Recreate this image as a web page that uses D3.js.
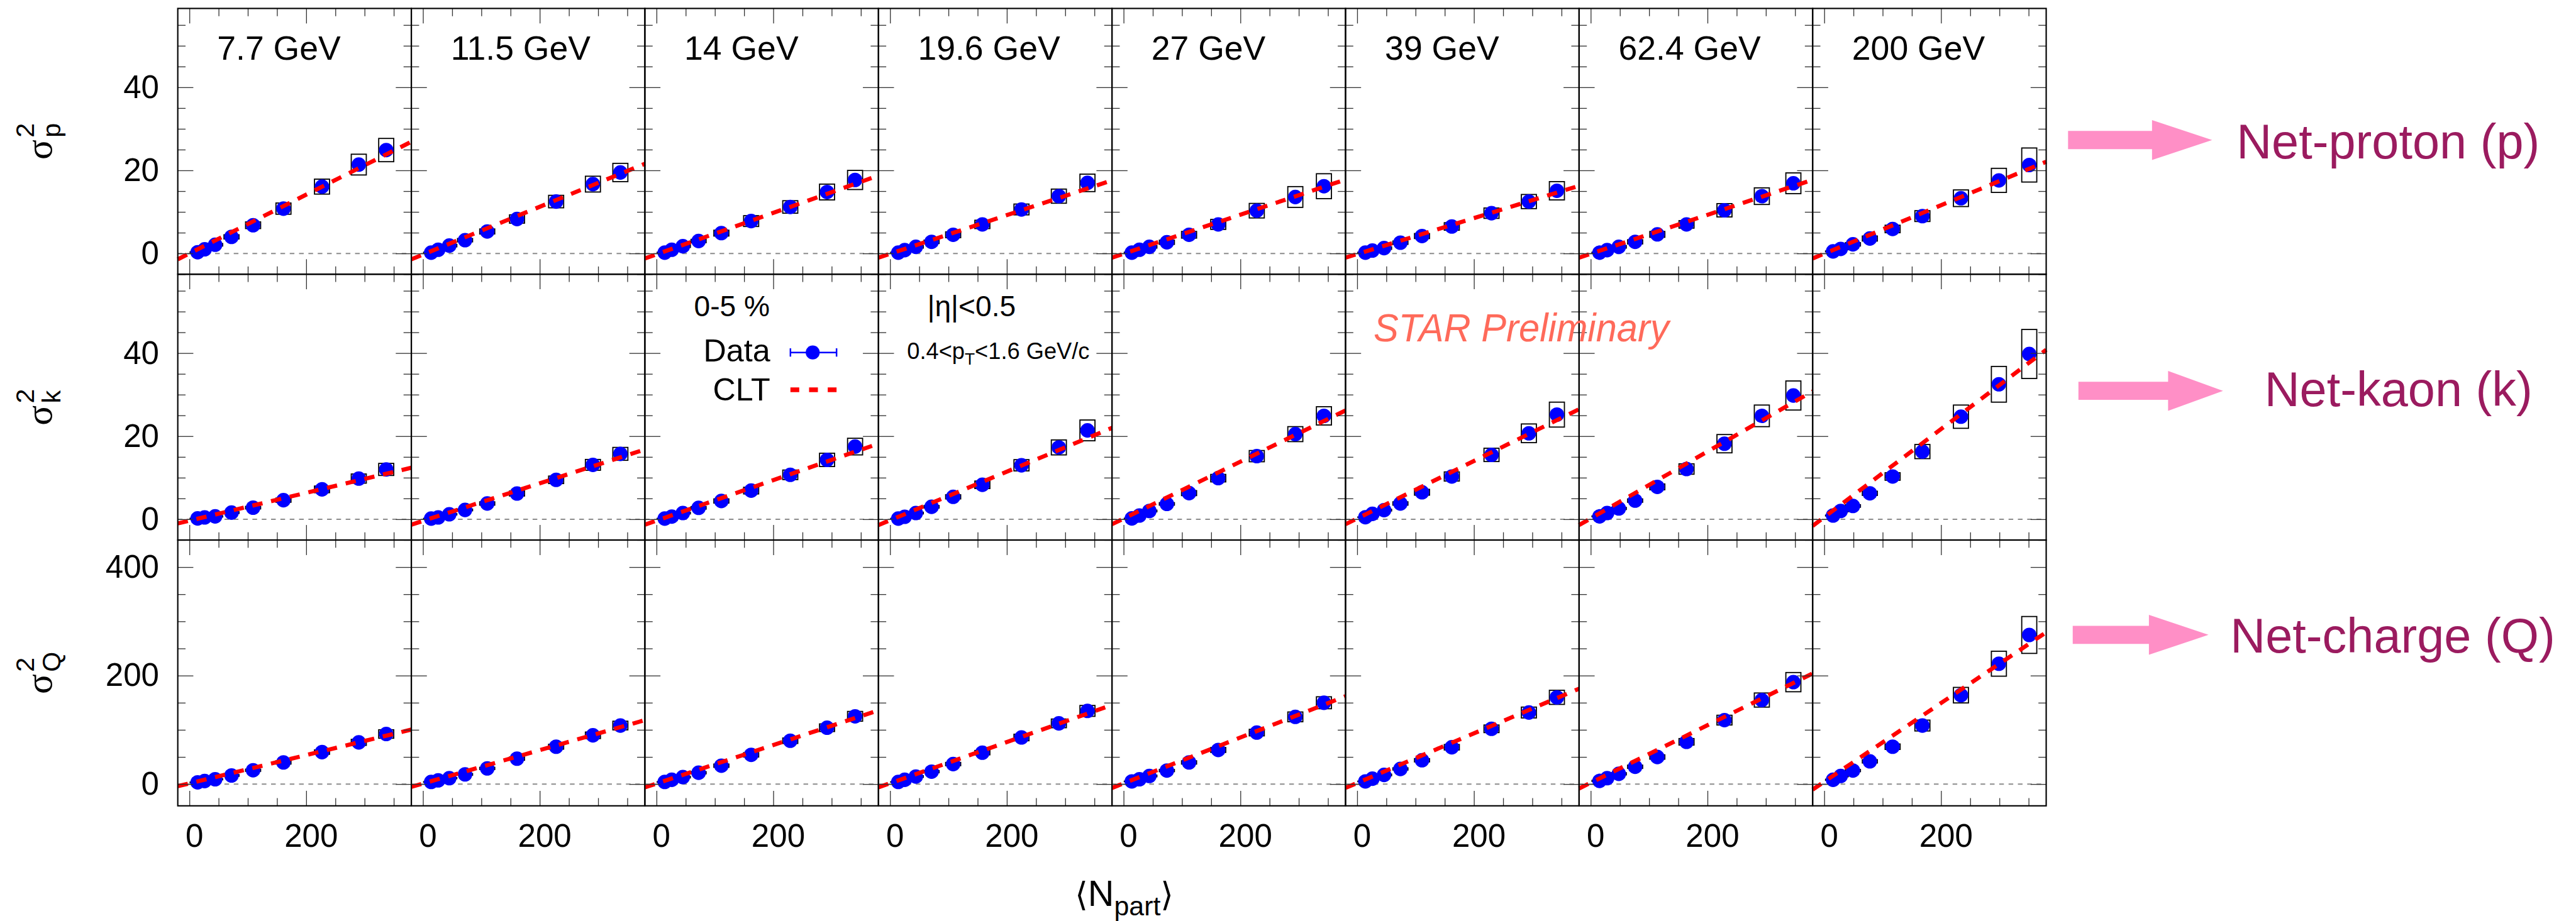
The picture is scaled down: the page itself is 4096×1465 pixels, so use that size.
<!DOCTYPE html>
<html>
<head>
<meta charset="utf-8">
<script src="https://cdn.jsdelivr.net/npm/d3@7"></script>
<style>
html, body { margin: 0; padding: 0; background: #fff; }
svg { display: block; }
</style>
</head>
<body>
<div id="chart"></div>
<script>
// one column per collision energy
const energies = ["7.7 GeV", "11.5 GeV", "14 GeV", "19.6 GeV", "27 GeV", "39 GeV", "62.4 GeV", "200 GeV"];

// <Npart> of the nine centrality bins, 70-80% ... 0-5%
const npart = [
  [14, 26, 44, 72, 109, 161, 227, 290, 337],
  [14, 26, 45, 72, 110, 161, 228, 291, 338],
  [14, 26, 45, 72, 111, 162, 229, 292, 340],
  [14, 25, 44, 71, 108, 158, 225, 289, 338],
  [14, 27, 44, 74, 112, 162, 228, 294, 343],
  [14, 26, 46, 74, 111, 162, 230, 294, 342],
  [15, 28, 48, 76, 114, 164, 229, 293, 347],
  [15, 28, 49, 78, 117, 168, 234, 299, 351]
];

// net-proton variance and systematic errors
const protonVar = [
  [0.3, 1.0, 2.1, 4.0, 6.8, 10.8, 16.1, 21.4, 24.9],
  [0.2, 0.9, 1.9, 3.2, 5.3, 8.3, 12.5, 16.7, 19.5],
  [0.2, 0.9, 1.75, 3.0, 4.9, 7.8, 11.2, 14.8, 17.7],
  [0.2, 0.8, 1.6, 2.8, 4.5, 7.0, 10.6, 13.8, 17.0],
  [0.2, 0.9, 1.6, 2.7, 4.5, 7.0, 10.3, 13.6, 16.2],
  [0.2, 0.7, 1.3, 2.6, 4.2, 6.5, 9.7, 12.5, 15.1],
  [0.2, 0.8, 1.6, 2.8, 4.6, 7.0, 10.4, 13.8, 16.9],
  [0.5, 1.1, 2.2, 3.6, 5.9, 9.0, 13.3, 17.6, 21.3]
];
const protonSys = [
  [0.1, 0.2, 0.3, 0.5, 0.8, 1.35, 1.8, 2.5, 2.8],
  [0.1, 0.2, 0.3, 0.4, 0.6, 1.0, 1.5, 1.9, 2.2],
  [0.1, 0.2, 0.3, 0.4, 0.7, 1.3, 1.5, 1.9, 2.3],
  [0.1, 0.2, 0.3, 0.4, 0.7, 1.0, 1.3, 1.7, 2.1],
  [0.1, 0.2, 0.3, 0.5, 0.8, 1.2, 1.75, 2.5, 3.0],
  [0.1, 0.2, 0.3, 0.4, 0.6, 0.9, 1.25, 1.7, 2.2],
  [0.1, 0.2, 0.3, 0.5, 0.7, 0.9, 1.6, 2.0, 2.5],
  [0.1, 0.2, 0.4, 0.6, 0.9, 1.3, 2.0, 2.9, 4.1]
];

// net-kaon variance and systematic errors
const kaonVar = [
  [0.2, 0.45, 0.7, 1.6, 2.8, 4.6, 7.2, 9.8, 12.0],
  [0.17, 0.45, 1.2, 2.25, 3.8, 6.2, 9.5, 13.1, 15.75],
  [0.17, 0.65, 1.5, 2.75, 4.4, 6.9, 10.7, 14.3, 17.5],
  [0.17, 0.6, 1.5, 3.0, 5.4, 8.3, 13.0, 17.3, 21.4],
  [0.2, 0.9, 2.0, 3.7, 6.3, 9.9, 15.2, 20.5, 24.9],
  [0.5, 1.3, 2.2, 3.8, 6.5, 10.3, 15.5, 20.7, 25.2],
  [0.7, 1.5, 2.6, 4.5, 7.8, 12.1, 18.2, 24.9, 29.8],
  [0.9, 2.0, 3.2, 6.25, 10.3, 16.3, 24.7, 32.5, 39.8]
];
const kaonSys = [
  [0.05, 0.1, 0.15, 0.2, 0.3, 0.5, 0.8, 1.1, 1.45],
  [0.05, 0.1, 0.15, 0.2, 0.4, 0.6, 0.9, 1.3, 1.55],
  [0.05, 0.1, 0.2, 0.3, 0.5, 0.8, 1.15, 1.6, 2.0],
  [0.05, 0.1, 0.2, 0.3, 0.5, 0.9, 1.35, 1.8, 2.5],
  [0.05, 0.1, 0.2, 0.3, 0.6, 0.9, 1.35, 1.8, 2.2],
  [0.05, 0.1, 0.2, 0.4, 0.7, 1.1, 1.6, 2.25, 3.0],
  [0.1, 0.15, 0.25, 0.4, 0.7, 1.25, 2.2, 2.6, 3.5],
  [0.1, 0.2, 0.3, 0.5, 0.9, 1.7, 2.8, 4.3, 5.9]
];

// net-charge variance and systematic errors
const chargeVar = [
  [3.3, 5.7, 9, 16, 25.6, 40, 59, 77, 92.4],
  [4, 7, 11, 18, 29, 47, 69, 90, 108],
  [4, 8, 13, 21, 34, 54, 80, 104, 125],
  [4, 8, 14, 23, 37, 58, 86, 112, 135],
  [5, 9, 15, 25, 40, 63, 95, 124, 150],
  [5, 10, 17, 28, 44, 68, 102, 132, 160],
  [6, 11, 19, 32, 50, 78, 118, 155, 188],
  [8, 15, 25, 42, 69, 108, 164, 222, 275]
];
const chargeSys = [
  [0.5, 0.8, 1, 1.5, 2, 3, 4, 5.5, 7.8],
  [0.5, 0.8, 1, 1.5, 2, 3, 4.5, 6, 8],
  [0.5, 1, 1.5, 2, 3, 4, 5, 7, 9],
  [0.5, 1, 1.5, 2, 3, 4, 6, 8, 10],
  [0.5, 1, 1.5, 2, 3, 4.5, 6, 9, 11],
  [0.5, 1, 1.5, 2, 3, 5, 7, 10, 13],
  [1, 1, 2, 3, 4, 6, 9, 13, 17.7],
  [1, 1.5, 2, 3, 5, 10, 14.3, 23, 34]
];

// CLT expectation, value at each end of the Npart range
const cltNpart = [-20, 380];
const protonClt = [[-1.4, 26.9], [-1.4, 21.6], [-1.2, 18.75], [-1.0, 17.6], [-1.0, 17.8], [-1.0, 16.3], [-1.0, 17.75], [-1.2, 22.1]];
const kaonClt = [[-1.0, 12.4], [-1.3, 16.8], [-1.3, 18.2], [-1.4, 22.0], [-1.2, 26.2], [-1.2, 26.5], [-1.4, 30.8], [-1.6, 40.8]];
const chargeClt = [[-3.8, 100.5], [-5, 118], [-6, 136], [-6, 146], [-7, 162], [-7, 176], [-8, 204], [-10, 280]];

// tick labels
const xTicks = [0, 200];
const yTicksPK = [0, 20, 40];
const yTicksQ = [0, 200, 400];

const sans = "'Liberation Sans', Arial, Helvetica, sans-serif";

const svg = d3.select("#chart").append("svg")
  .attr("width", 4096)
  .attr("height", 1465)
  .attr("viewBox", "0 0 4970 1777")
  .attr("font-family", sans);

const margin = {left: 343, top: 16};
const panelW = 450.6;
const panelH = 513;
const xDomain = [-20, 380];

const rows = [
  {vals: protonVar, sys: protonSys, clt: protonClt, domain: [-5, 59], major: yTicksPK, step: 5, sub: "p"},
  {vals: kaonVar, sys: kaonSys, clt: kaonClt, domain: [-5, 59], major: yTicksPK, step: 5, sub: "k"},
  {vals: chargeVar, sys: chargeSys, clt: chargeClt, domain: [-40, 450], major: yTicksQ, step: 50, sub: "Q"}
];

function tickGroup(g, axis, transform) {
  const a = g.append("g").attr("transform", transform).call(axis);
  a.select(".domain").remove();
  a.selectAll("line").attr("stroke", "#333").attr("stroke-width", 1.6);
  a.attr("font-family", sans).attr("font-size", 62);
  return a;
}

rows.forEach((row, r) => {
  const y = d3.scaleLinear().domain(row.domain).range([panelH, 0]);
  const minors = d3.range(Math.ceil(row.domain[0] / row.step) * row.step, row.domain[1], row.step)
    .filter(v => !row.major.includes(v));

  energies.forEach((energy, c) => {
    const x = d3.scaleLinear().domain(xDomain).range([0, panelW]);
    const xMinors = d3.range(0, xDomain[1], 50).filter(v => !xTicks.includes(v));
    const g = svg.append("g")
      .attr("transform", `translate(${margin.left + c * panelW}, ${margin.top + r * panelH})`);

    // zero reference
    g.append("line")
      .attr("x1", x(xDomain[0])).attr("x2", x(xDomain[1]))
      .attr("y1", y(0)).attr("y2", y(0))
      .attr("stroke", "#8c8c8c").attr("stroke-width", 2.5)
      .attr("stroke-dasharray", "9,9");

    const pts = npart[c].map((n, i) => ({n: n, v: row.vals[c][i], s: row.sys[c][i]}));

    // systematic boxes
    g.selectAll("rect.sys").data(pts).enter().append("rect")
      .attr("class", "sys")
      .attr("x", d => x(d.n) - 14.5)
      .attr("width", 29)
      .attr("y", d => y(d.v + d.s))
      .attr("height", d => y(d.v - d.s) - y(d.v + d.s))
      .attr("fill", "none").attr("stroke", "#000").attr("stroke-width", 2.2);

    // data points
    g.selectAll("circle").data(pts).enter().append("circle")
      .attr("cx", d => x(d.n))
      .attr("cy", d => y(d.v))
      .attr("r", 14)
      .attr("fill", "#0000ff");

    // CLT line
    g.append("line")
      .attr("x1", x(cltNpart[0])).attr("y1", y(row.clt[c][0]))
      .attr("x2", x(cltNpart[1])).attr("y2", y(row.clt[c][1]))
      .attr("stroke", "#ff0000").attr("stroke-width", 8)
      .attr("stroke-dasharray", "20,17");

    // ticks on all four sides, pointing inward
    tickGroup(g, d3.axisLeft(y).tickValues(minors).tickSize(-15).tickFormat(""), null);
    tickGroup(g, d3.axisRight(y).tickValues(minors).tickSize(-15).tickFormat(""), `translate(${panelW},0)`);
    tickGroup(g, d3.axisRight(y).tickValues(row.major).tickSize(-30).tickFormat(""), `translate(${panelW},0)`);
    const yMajor = tickGroup(g, d3.axisLeft(y).tickValues(row.major).tickSize(-30).tickPadding(36)
      .tickFormat(c === 0 ? d3.format("d") : ""), null);
    yMajor.selectAll("text").attr("fill", "#000");

    tickGroup(g, d3.axisTop(x).tickValues(xMinors).tickSize(-15).tickFormat(""), null);
    tickGroup(g, d3.axisTop(x).tickValues(xTicks).tickSize(-29).tickFormat(""), null);
    tickGroup(g, d3.axisBottom(x).tickValues(xMinors).tickSize(-15).tickFormat(""), `translate(0,${panelH})`);
    const xMajor = tickGroup(g, d3.axisBottom(x).tickValues(xTicks).tickSize(-29).tickPadding(35)
      .tickFormat(r === rows.length - 1 ? d3.format("d") : ""), `translate(0,${panelH})`);
    xMajor.selectAll("text").attr("dx", 9).attr("fill", "#000");

    // frame
    g.append("rect")
      .attr("width", panelW).attr("height", panelH)
      .attr("fill", "none").attr("stroke", "#000").attr("stroke-width", 2.6);

    if (r === 0) {
      g.append("text")
        .attr("x", 76).attr("y", 99)
        .attr("font-size", 65)
        .text(energy);
    }
  });

  // y title, sigma with stacked 2 and subscript
  const cy = margin.top + (r + 0.5) * panelH;
  const t = svg.append("g").attr("transform", `translate(100,${cy}) rotate(-90)`);
  const sig = t.append("text")
    .attr("font-family", "'Liberation Serif', 'Times New Roman', serif")
    .attr("font-size", 72).text("σ");
  const sup = t.append("text").attr("font-size", 50).attr("y", -34).text("2");
  const sub = t.append("text").attr("font-size", 50).attr("y", 16).text(row.sub);
  const sw = sig.node().getComputedTextLength();
  const total = sw + 4 + Math.max(sup.node().getComputedTextLength(), sub.node().getComputedTextLength());
  sig.attr("x", -total / 2);
  sup.attr("x", -total / 2 + sw + 4);
  sub.attr("x", -total / 2 + sw + 4);
});

// x title
const xt = svg.append("text").attr("x", 2074).attr("y", 1748).attr("font-size", 70);
xt.append("tspan").attr("font-family", "'DejaVu Sans', sans-serif").attr("font-size", 64).text("⟨");
xt.append("tspan").text("N");
xt.append("tspan").attr("font-size", 52).attr("dy", 18).text("part");
xt.append("tspan").attr("font-family", "'DejaVu Sans', sans-serif").attr("font-size", 64).attr("dy", -18).text("⟩");

// legend and cut labels
svg.append("text").attr("x", 1339).attr("y", 610).attr("font-size", 56).text("0-5 %");
svg.append("text").attr("x", 1486).attr("y", 698).attr("font-size", 61).attr("text-anchor", "end").text("Data");
svg.append("text").attr("x", 1486).attr("y", 773).attr("font-size", 61).attr("text-anchor", "end").text("CLT");

svg.append("line").attr("x1", 1525).attr("x2", 1614).attr("y1", 680).attr("y2", 680)
  .attr("stroke", "#0000ff").attr("stroke-width", 3);
[1525, 1614].forEach(xc => {
  svg.append("line").attr("x1", xc).attr("x2", xc).attr("y1", 672).attr("y2", 688)
    .attr("stroke", "#0000ff").attr("stroke-width", 3);
});
svg.append("circle").attr("cx", 1568).attr("cy", 680).attr("r", 13.5).attr("fill", "#0000ff");
svg.append("line").attr("x1", 1525).attr("x2", 1614).attr("y1", 752).attr("y2", 752)
  .attr("stroke", "#ff0000").attr("stroke-width", 9).attr("stroke-dasharray", "17,19");

svg.append("text").attr("x", 1789).attr("y", 610).attr("font-size", 56).text("|η|<0.5");
const pt = svg.append("text").attr("x", 1750).attr("y", 693).attr("font-size", 44);
pt.append("tspan").text("0.4<p");
pt.append("tspan").attr("font-size", 32).attr("dy", 10).text("T");
pt.append("tspan").attr("dy", -10).text("<1.6 GeV/c");

svg.append("text")
  .attr("x", 2650).attr("y", 658)
  .attr("font-size", 76).attr("font-style", "italic")
  .attr("textLength", 570).attr("lengthAdjust", "spacingAndGlyphs")
  .attr("fill", "#ff6a5a")
  .text("STAR Preliminary");

// quantity labels on the right
const sideLabels = [
  {text: "Net-proton (p)", x: 4315, y: 306, a0: 3990, a1: 4152, a2: 4268, ay: 270},
  {text: "Net-kaon (k)", x: 4369, y: 783, a0: 4010, a1: 4183, a2: 4289, ay: 754},
  {text: "Net-charge (Q)", x: 4303, y: 1259, a0: 3999, a1: 4146, a2: 4261, ay: 1225}
];
sideLabels.forEach(s => {
  const p = d3.path();
  p.moveTo(s.a0, s.ay - 17.5);
  p.lineTo(s.a1, s.ay - 17.5);
  p.lineTo(s.a1, s.ay - 38.5);
  p.lineTo(s.a2, s.ay);
  p.lineTo(s.a1, s.ay + 38.5);
  p.lineTo(s.a1, s.ay + 17.5);
  p.lineTo(s.a0, s.ay + 17.5);
  p.closePath();
  svg.append("path").attr("d", p.toString()).attr("fill", "#ff8fc6");
  svg.append("text").attr("x", s.x).attr("y", s.y).attr("font-size", 94)
    .attr("fill", "#9b1b5f").text(s.text);
});
</script>
</body>
</html>
